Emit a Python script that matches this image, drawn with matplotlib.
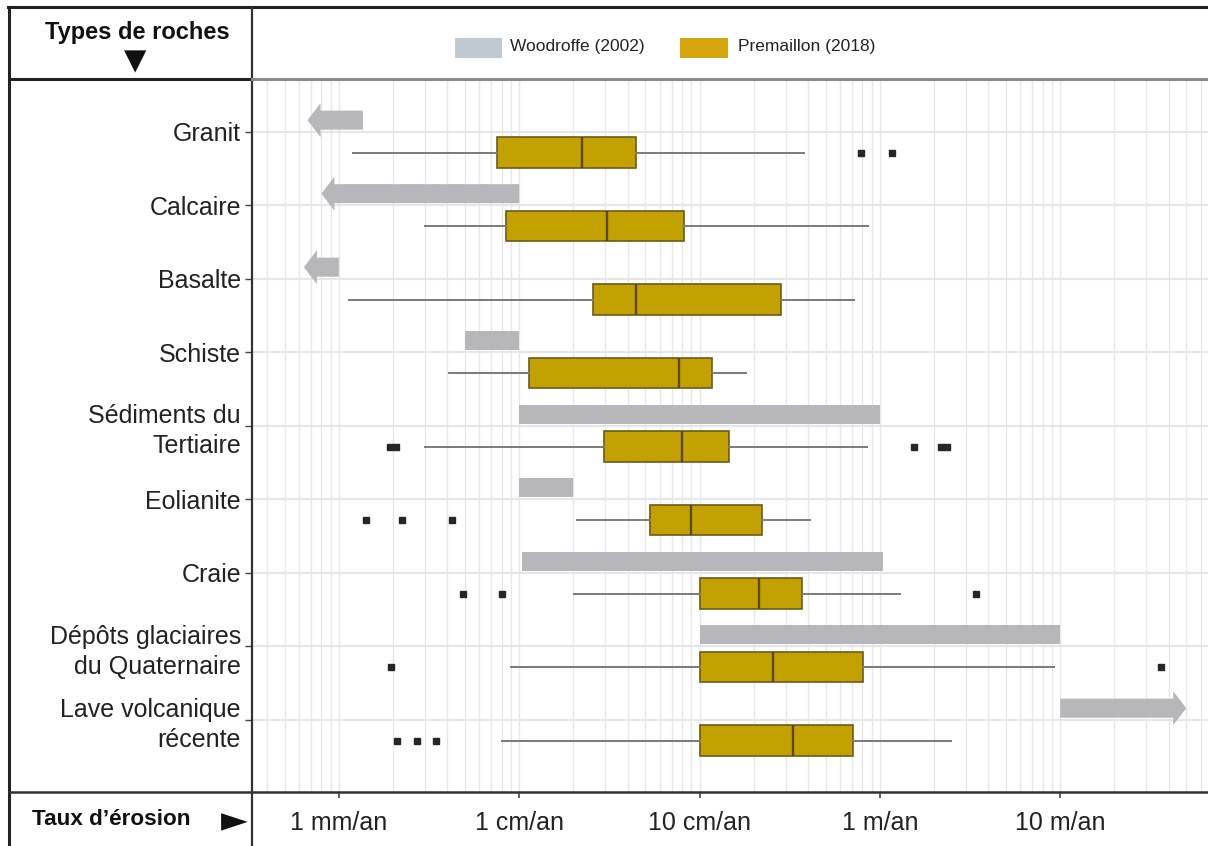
import matplotlib
matplotlib.use("Agg")
import matplotlib.pyplot as plt
from matplotlib.patches import FancyArrowPatch, Rectangle
from matplotlib.lines import Line2D
from matplotlib import font_manager
import numpy as np

# ---------------- data (erosion rates in mm/an) ----------------
categories = ["Granit", "Calcaire", "Basalte", "Schiste", "Sédiments du\nTertiaire",
              "Eolianite", "Craie", "Dépôts glaciaires\ndu Quaternaire",
              "Lave volcanique\nrécente"]

# Woodroffe (2002) ranges; open-ended ranges drawn as arrows
wood_low = [0.67, 0.80, 0.64, 5.0, 10, 10, 10.4, 100, 10000]
wood_high = [1.36, 10, 1.0, 10, 1000, 20, 1040, 10000, 50000]
wood_open = ["left", "left", "left", None, None, None, None, None, "right"]

# Premaillon (2018) box statistics
whislo = [1.2, 3.0, 1.14, 4.1, 3.0, 20.8, 20.1, 9.0, 8.05]
q1 = [7.5, 8.4, 25.7, 11.3, 29.6, 53, 100, 100, 101]
med = [22.2, 30.8, 44.2, 77, 80, 90, 213, 256, 331]
q3 = [44.4, 82, 283, 118, 146, 221, 368, 803, 712]
whishi = [379, 856, 721, 182, 852, 410, 1292, 9245, 2478]
fliers = [[785, 1162], [], [], [], [1.91, 2.07, 1552, 2183, 2371],
          [1.41, 2.24, 4.22], [4.89, 8.05, 3398], [1.94, 36080],
          [2.09, 2.72, 3.45]]

tick_values = [1, 10, 100, 1000, 10000]
tick_labels = ["1 mm/an", "1 cm/an", "10 cm/an", "1 m/an", "10 m/an"]

legend_labels = ["Woodroffe (2002)", "Premaillon (2018)"]

# ---------------- style ----------------
plt.rcParams['font.family'] = ['Liberation Sans', 'DejaVu Sans']

GOLD = '#C3A100'
GOLD_EDGE = '#6B5B1E'
GREY_BAR = '#B7B7BB'
GRID = '#E6E6E6'

W, H = 1208, 846
fig = plt.figure(figsize=(W / 100, H / 100), dpi=100)
ax = fig.add_axes([252 / W, (H - 792) / H, (W - 252) / W, (792 - 79) / H])
ax.set_xscale('log')
ax.set_xlim(0.33, 66000)
ax.set_ylim(8.98, -0.72)

n = len(categories)
pos = np.arange(n)
GOFF, BOFF = -0.16, 0.28

# Woodroffe bars / arrows
for i in range(n):
    y = pos[i] + GOFF
    if wood_open[i] is None:
        ax.barh(y, wood_high[i] - wood_low[i], left=wood_low[i], height=0.26,
                color=GREY_BAR, lw=0, zorder=3)
    else:
        if wood_open[i] == "left":
            a, b = wood_high[i], wood_low[i]
        else:
            a, b = wood_low[i], wood_high[i]
        arr = FancyArrowPatch(posA=(a, y), posB=(b, y),
                              arrowstyle="simple,head_length=9.4,head_width=24.5,tail_width=13.7",
                              mutation_scale=1, shrinkA=0, shrinkB=0,
                              color=GREY_BAR, lw=0, zorder=3)
        ax.add_patch(arr)

# Premaillon boxes
stats = []
for i in range(n):
    stats.append(dict(med=med[i], q1=q1[i], q3=q3[i], whislo=whislo[i],
                      whishi=whishi[i], fliers=fliers[i]))
kw = dict(positions=pos + BOFF, widths=0.41, patch_artist=True, showcaps=False,
          boxprops=dict(facecolor=GOLD, edgecolor=GOLD_EDGE, lw=1.2),
          medianprops=dict(color='#5A4810', lw=1.7),
          whiskerprops=dict(color='#7A7A7A', lw=1.4),
          flierprops=dict(marker='s', markersize=4.8, markerfacecolor='#262626',
                          markeredgecolor='#262626'),
          manage_ticks=False, zorder=4)
try:
    ax.bxp(stats, orientation='horizontal', **kw)
except TypeError:
    ax.bxp(stats, vert=False, **kw)

# axes cosmetics
for s in ax.spines.values():
    s.set_visible(False)
ax.set_xticks(tick_values)
ax.set_xticklabels(tick_labels, fontsize=18, color='#222222')
ax.xaxis.set_minor_locator(matplotlib.ticker.LogLocator(base=10, subs=np.arange(2, 10)))
ax.xaxis.set_minor_formatter(matplotlib.ticker.NullFormatter())
ax.tick_params(axis='x', which='major', length=4, width=1.2, color='#444444', pad=10)
ax.tick_params(axis='x', which='minor', length=0)
ax.set_yticks(pos)
ax.set_yticklabels(categories, fontsize=18, color='#222222', linespacing=1.3)
ax.tick_params(axis='y', length=5, width=1, color='#444444', pad=3)
ax.grid(True, axis='x', which='both', color=GRID, lw=1, zorder=0)
ax.grid(True, axis='y', which='major', color=GRID, lw=1.5, zorder=0)
ax.set_axisbelow(True)

# table frame
def fline(x0, y0, x1, y1, color='#222222', lw=2.0):
    fig.add_artist(Line2D([x0 / W, x1 / W], [1 - y0 / H, 1 - y1 / H],
                          color=color, lw=lw, transform=fig.transFigure, zorder=10))

fline(8, 7, W, 7, lw=2.2)
fline(9, 7, 9, H, lw=2.2)
fline(252, 7, 252, H, color='#333333', lw=1.6)
fline(9, 79, 252, 79, color='#222222', lw=2.2)
fline(252, 79, W, 79, color='#8A8A8A', lw=2.2)
fline(9, 792, W, 792, color='#333333', lw=1.8)

# header texts
fig.text(137 / W, 1 - 33 / H, "Types de roches", ha='center', va='center',
         fontsize=17, fontweight='bold', color='#111111')
fig.text(135 / W, 1 - 61 / H, "▼", ha='center', va='center', fontsize=21,
         family='DejaVu Sans', color='#111111')
fig.text(32 / W, 1 - 819 / H, "Taux d’érosion", ha='left', va='center',
         fontsize=16.2, fontweight='bold', color='#111111')
fig.text(234 / W, 1 - 821 / H, "►", ha='center', va='center', fontsize=25,
         family='DejaVu Sans', color='#111111')

# legend (manual)
fig.patches.append(Rectangle((455 / W, 1 - 58 / H), 47 / W, 20 / H, transform=fig.transFigure,
                             facecolor='#C2C8D0', lw=0, figure=fig))
fig.patches.append(Rectangle((680 / W, 1 - 58 / H), 48 / W, 20 / H, transform=fig.transFigure,
                             facecolor='#D6A50E', lw=0, figure=fig))
fig.text(510 / W, 1 - 47 / H, legend_labels[0], ha='left', va='center',
         fontsize=12.5, color='#222222')
fig.text(738 / W, 1 - 47 / H, legend_labels[1], ha='left', va='center',
         fontsize=12.5, color='#222222')

fig.savefig("out.png", dpi=100)
